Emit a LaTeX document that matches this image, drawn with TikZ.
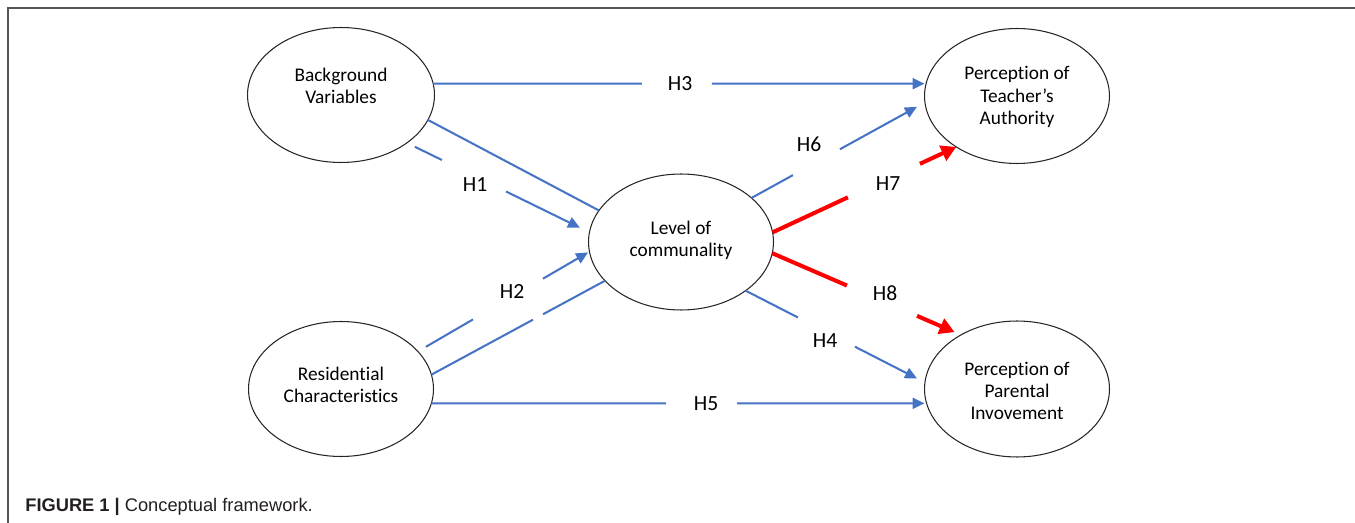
\documentclass[tikz,border=0pt]{standalone}
\usepackage{fontspec}
\setmainfont{Carlito}[Ligatures={NoCommon}]
\newfontfamily\capfont{Liberation Sans}
\definecolor{linkblue}{RGB}{68, 114, 196}
\definecolor{framegray}{RGB}{85, 85, 85}
\definecolor{capink}{RGB}{35, 31, 32}
\usetikzlibrary{shapes.geometric, arrows.meta, calc}

\begin{document}
\begin{tikzpicture}[
  x=0.02cm, y=-0.02cm,
  var/.style={draw=black!85, line width=0.6pt, ellipse, minimum width=3.7cm, minimum height=2.7cm, inner sep=0pt, outer sep=0pt},
  vartext/.style={align=center, inner sep=0pt, font=\fontsize{11}{12.6}\selectfont},
  hyp/.style={inner sep=0pt, font=\fontsize{12.3}{14}\selectfont},
  link/.style={draw=linkblue, line width=1.15pt},
  blink/.style={link, -{Triangle[length=0.24cm, width=0.22cm]}},
  rlink/.style={draw=red, line width=2.3pt, -{Triangle[length=0.3cm, width=0.32cm]}}
]
  \useasboundingbox (0,0) rectangle (1355,523);
  \draw[framegray, line width=0.7pt] (1355,8) -- (8,8) -- (8,523);

  \node[var, minimum width=3.74cm] (bg) at (341,95) {};
  \node[var] (rc) at (341,389) {};
  \node[var, minimum height=2.72cm] (lv) at (681,242) {};
  \node[var] (ta) at (1017,96) {};
  \node[var, minimum height=2.72cm] (pi) at (1017,389) {};

  \node[vartext] (bgtext) at (341,86) {Background\\Variables};
  \node[vartext] (rctext) at (341,385) {Residential\\Characteristics};
  \node[vartext] (lvtext) at (681,240) {Level of\\communality};
  \node[vartext] (tatext) at (1017,97) {Perception of\\Teacher’s\\Authority};
  \node[vartext] (pitext) at (1017,391) {Perception of\\Parental\\Invovement};

  \node[hyp] (h1) at (475,185) {H1};
  \node[hyp] (h2) at (512,291) {H2};
  \node[hyp] (h3) at (680,84) {H3};
  \node[hyp] (h4) at (825,341) {H4};
  \node[hyp] (h5) at (706,404) {H5};
  \node[hyp] (h6) at (809,144) {H6};
  \node[hyp] (h7) at (888,184) {H7};
  \node[hyp] (h8) at (885,293) {H8};

  \coordinate (h3end) at (bg.7 -| ta.west);
  \coordinate (h5end) at (rc.-9 -| pi.west);

  \draw[blink] (bg.7) -- ($(bg.7)!0.425!(h3end)$) ($(bg.7)!0.567!(h3end)$) -- (h3end);
  \draw[blink] (rc.-9) -- ($(rc.-9)!0.476!(h5end)$) ($(rc.-9)!0.62!(h5end)$) -- (h5end);
  \draw[link] (bg.-16) -- (lv.159);
  \draw[blink] ($(bg.-36)!0.044!(lv.174)$) -- ($(bg.-36)!0.192!(lv.174)$) ($(bg.-36)!0.543!(lv.174)$) -- ($(bg.-36)!0.948!(lv.174)$);
  \draw[blink] ($(rc.26)!0.047!(lv.186)$) -- ($(rc.26)!0.321!(lv.186)$) ($(rc.26)!0.729!(lv.186)$) -- ($(rc.26)!0.992!(lv.186)$);
  \draw[link] (rc.9) -- ($(rc.9)!0.585!(lv.207)$) ($(rc.9)!0.643!(lv.207)$) -- (lv.207);
  \draw[blink] (lv.32) -- ($(lv.32)!0.239!(ta.184)$) ($(lv.32)!0.51!(ta.184)$) -- ($(lv.32)!0.954!(ta.184)$);
  \draw[blink] (lv.-37) -- ($(lv.-37)!0.292!(pi.176)$) ($(lv.-37)!0.61!(pi.176)$) -- ($(lv.-37)!0.956!(pi.176)$);
  \draw[rlink] (lv.6) -- ($(lv.6)!0.41!(ta.220)$) ($(lv.6)!0.802!(ta.220)$) -- (ta.220);
  \draw[rlink] (lv.-7) -- ($(lv.-7)!0.396!(pi.136)$) ($(lv.-7)!0.767!(pi.136)$) -- ($(lv.-7)!0.966!(pi.136)$);

  \node[anchor=base west, inner sep=0pt, text=capink, font=\capfont\fontsize{10.4}{12}\selectfont] (caption) at (25,511) {\textbf{FIGURE 1 |} Conceptual framework.};
\end{tikzpicture}
\end{document}
